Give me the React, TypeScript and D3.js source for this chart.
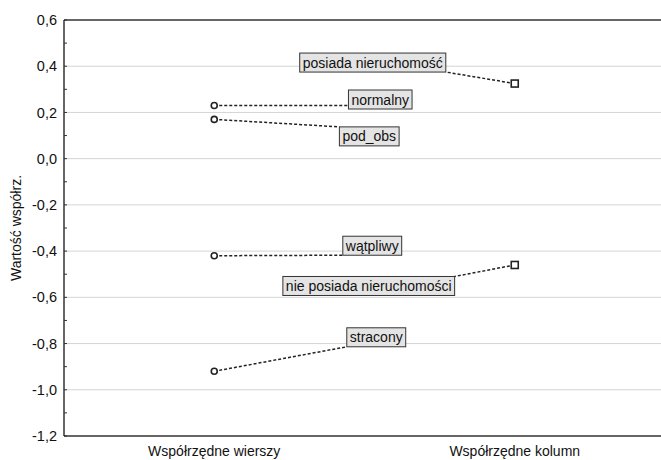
import React, { useEffect, useRef } from 'react';
import * as d3 from 'd3';

const width = 661;
const height = 460;
const margin = { top: 20, right: -4, bottom: 24, left: 64 };

// categories on the x axis
const groups = ['Współrzędne wierszy', 'Współrzędne kolumn'];

// row coordinates
const rowLabels = ['normalny', 'pod_obs', 'wątpliwy', 'stracony'];
const rowValues = [0.23, 0.17, -0.42, -0.92];

// column coordinates
const colLabels = ['posiada nieruchomość', 'nie posiada nieruchomości'];
const colValues = [0.325, -0.46];

const yTicks = [0.6, 0.4, 0.2, 0.0, -0.2, -0.4, -0.6, -0.8, -1.0, -1.2];

// where each label box sits, relative to its point (px)
const rowLabelOffsets = [[166, -6], [155, 17], [158, -10], [162, -34]];
const colLabelOffsets = [[-142, -21], [-146, 21]];

const font = '"Liberation Sans", Arial, sans-serif';

export default function App() {
  const ref = useRef<SVGSVGElement>(null);

  useEffect(() => {
    const svg = d3.select(ref.current);
    svg.selectAll('*').remove();

    const x = d3.scalePoint()
      .domain(groups)
      .range([margin.left, width - margin.right])
      .padding(0.5);
    const y = d3.scaleLinear()
      .domain([-1.2, 0.6])
      .range([height - margin.bottom, margin.top]);

    // grid lines
    svg.append('g')
      .selectAll('line')
      .data(yTicks.slice(1, -1))
      .join('line')
      .attr('x1', margin.left).attr('x2', width)
      .attr('y1', d => y(d)).attr('y2', d => y(d))
      .attr('stroke', '#d4d4d4').attr('stroke-width', 1);

    // frame: top, bottom, left
    const frame = svg.append('g').attr('stroke', '#333').attr('stroke-width', 1.5);
    frame.append('line').attr('x1', margin.left).attr('x2', width).attr('y1', y(0.6)).attr('y2', y(0.6));
    frame.append('line').attr('x1', margin.left).attr('x2', width).attr('y1', y(-1.2)).attr('y2', y(-1.2));
    frame.append('line').attr('x1', margin.left).attr('x2', margin.left).attr('y1', y(0.6)).attr('y2', y(-1.2));

    // y axis ticks (major + minor, inside)
    const minor = d3.range(-12, 7).map(i => i / 10);
    svg.append('g')
      .selectAll('line')
      .data(minor)
      .join('line')
      .attr('x1', margin.left).attr('x2', margin.left + 3)
      .attr('y1', d => y(d)).attr('y2', d => y(d))
      .attr('stroke', '#333');

    svg.append('g')
      .selectAll('text')
      .data(yTicks)
      .join('text')
      .attr('x', margin.left - 7)
      .attr('y', d => y(d))
      .attr('dy', '0.35em')
      .attr('text-anchor', 'end')
      .attr('font-family', font)
      .attr('font-size', 14.5)
      .attr('fill', '#111')
      .text(d => d3.format('.1f')(d).replace('.', ',').replace('−', '-'));

    svg.append('text')
      .attr('transform', `translate(21,${(y(0.6) + y(-1.2)) / 2}) rotate(-90)`)
      .attr('text-anchor', 'middle')
      .attr('font-family', font)
      .attr('font-size', 14)
      .attr('fill', '#111')
      .text('Wartość współrz.');

    // x category labels
    svg.append('g')
      .selectAll('text')
      .data(groups)
      .join('text')
      .attr('x', d => x(d)!)
      .attr('y', height - 4)
      .attr('text-anchor', 'middle')
      .attr('font-family', font)
      .attr('font-size', 14)
      .attr('fill', '#111')
      .text(d => d);

    const points = [
      ...rowLabels.map((l, i) => ({ label: l, v: rowValues[i], g: groups[0], off: rowLabelOffsets[i], shape: 'circle' })),
      ...colLabels.map((l, i) => ({ label: l, v: colValues[i], g: groups[1], off: colLabelOffsets[i], shape: 'square' })),
    ];

    const linkG = svg.append('g');
    const boxG = svg.append('g');
    const markG = svg.append('g');

    points.forEach(p => {
      const px = x(p.g)!;
      const py = y(p.v);
      const cx = px + p.off[0];
      const cy = py + p.off[1];

      const g = boxG.append('g');
      const rect = g.append('rect');
      const t = g.append('text')
        .attr('x', cx).attr('y', cy)
        .attr('dy', '0.36em')
        .attr('text-anchor', 'middle')
        .attr('font-family', font)
        .attr('font-size', 14)
        .attr('fill', '#111')
        .text(p.label);
      const tw = (t.node() as SVGTextElement).getComputedTextLength();
      const bw = tw + 6;
      const bh = 19;
      const x0 = cx - bw / 2, y0 = cy - bh / 2;
      rect.attr('x', x0).attr('y', y0).attr('width', bw).attr('height', bh)
        .attr('fill', '#e4e4e4').attr('stroke', '#333').attr('stroke-width', 1);

      const ex = Math.max(x0, Math.min(x0 + bw, px));
      const ey = Math.max(y0, Math.min(y0 + bh, py));
      linkG.append('line')
        .attr('x1', px).attr('y1', py).attr('x2', ex).attr('y2', ey)
        .attr('stroke', '#222').attr('stroke-width', 1.5)
        .attr('stroke-dasharray', '3,2');

      if (p.shape === 'circle') {
        markG.append('circle').attr('cx', px).attr('cy', py).attr('r', 3)
          .attr('fill', '#fff').attr('stroke', '#222').attr('stroke-width', 1.6);
      } else {
        markG.append('rect').attr('x', px - 3.5).attr('y', py - 3.5).attr('width', 7).attr('height', 7)
          .attr('fill', '#fff').attr('stroke', '#222').attr('stroke-width', 1.6);
      }
    });
  }, []);

  return (
    <svg ref={ref} width={width} height={height}
      style={{ position: 'absolute', left: 0, top: 0, background: '#fff' }} />
  );
}
